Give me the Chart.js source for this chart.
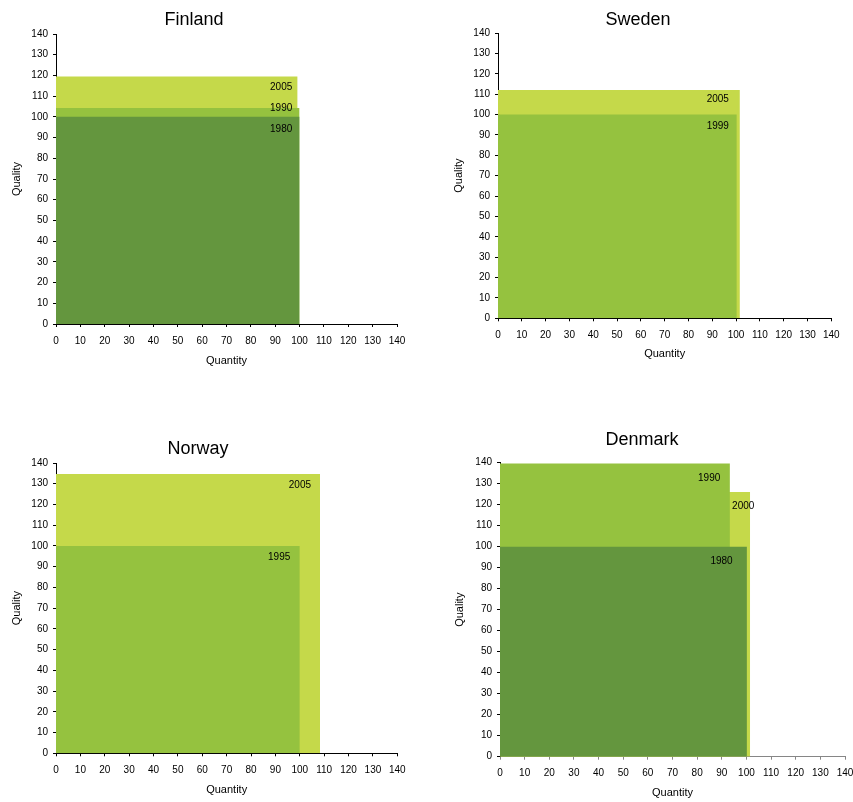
<!DOCTYPE html>
<html>
<head>
<meta charset="utf-8">
<script src="https://cdn.jsdelivr.net/npm/chart.js@4.4.1/dist/chart.umd.min.js"></script>
<style>
  body { margin: 0; background: #fff; }
  #wrap { position: relative; width: 853px; height: 802px; overflow: hidden; }
  canvas { position: absolute; }
</style>
</head>
<body>
<div id="wrap">
  <canvas id="finland"></canvas>
  <canvas id="sweden"></canvas>
  <canvas id="norway"></canvas>
  <canvas id="denmark"></canvas>
</div>
<script>
// axis range shared by all four panels
const axisMin = 0;
const axisMax = 140;
const axisStep = 10;

// each rectangle runs from the origin to (quantity, quality)
const finlandYears = ['2005', '1990', '1980'];
const finlandQuantity = [99.2, 100, 100];
const finlandQuality = [119.5, 104.3, 100];
const finlandLabelQuantity = [97, 97, 97];
const finlandLabelQuality = [114.5, 104, 94];

const swedenYears = ['2005', '1999'];
const swedenQuantity = [101.6, 100.3];
const swedenQuality = [112, 100];
const swedenLabelQuantity = [97, 97];
const swedenLabelQuality = [107.6, 94];

const norwayYears = ['2005', '1995'];
const norwayQuantity = [108.3, 100];
const norwayQuality = [134.7, 100];
const norwayLabelQuantity = [104.6, 96.1];
const norwayLabelQuality = [129.4, 94.6];

const denmarkYears = ['2000', '1990', '1980'];
const denmarkQuantity = [101.5, 93.3, 100.2];
const denmarkQuality = [126, 139.6, 100];
const denmarkLabelQuantity = [103.2, 89.4, 94.4];
const denmarkLabelQuality = [119.2, 132.6, 93];

const light = '#c5d94a';
const mid = '#95c23f';
const dark = '#64963e';

Chart.defaults.font.family = '"Liberation Sans", Arial, sans-serif';
Chart.defaults.color = '#000';

function makePanel(id, geom, title, years, qty, qual, labelQty, labelQual, colors, xAxisColor) {
    const canvas = document.getElementById(id);
    canvas.width = geom.w;
    canvas.height = geom.h;
    canvas.style.left = geom.x + 'px';
    canvas.style.top = geom.y + 'px';

    const half = 6.6; // half line height of the 11px axis titles
    const padTop = geom.top - geom.y;
    const padRight = geom.x + geom.w - geom.right;
    const padLeft = geom.yTitleX - geom.x - half;
    const yWidth = geom.left - geom.x - padLeft;
    const xHeight = geom.xTitleY - geom.bottom + half;
    const padBottom = geom.h - (geom.bottom - geom.y) - xHeight;

    // draw back to front: first year in the list is the rear rectangle
    const datasets = years.map((yr, i) => ({
        label: yr,
        data: [{x: 0, y: qual[i]}, {x: qty[i], y: qual[i]}, {x: qty[i], y: 0}],
        showLine: true,
        fill: 'origin',
        backgroundColor: colors[i],
        borderColor: 'transparent',
        borderWidth: 0,
        pointRadius: 0,
        pointHoverRadius: 0,
        order: years.length - i
    }));

    const yearLabels = {
        id: 'yearLabels',
        afterDatasetsDraw(chart) {
            const {ctx, scales} = chart;
            ctx.save();
            ctx.font = '10px "Liberation Sans", Arial, sans-serif';
            ctx.fillStyle = '#000';
            ctx.textAlign = 'right';
            ctx.textBaseline = 'middle';
            years.forEach((yr, i) => {
                ctx.fillText(yr, scales.x.getPixelForValue(labelQty[i]), scales.y.getPixelForValue(labelQual[i]));
            });
            ctx.restore();
        }
    };

    const panelTitle = {
        id: 'panelTitle',
        afterDraw(chart) {
            const ctx = chart.ctx;
            ctx.save();
            ctx.font = '18px "Liberation Sans", Arial, sans-serif';
            ctx.fillStyle = '#000';
            ctx.textAlign = 'center';
            ctx.textBaseline = 'middle';
            ctx.fillText(title, geom.titleX - geom.x, geom.titleY - geom.y);
            ctx.restore();
        }
    };

    return new Chart(canvas, {
        type: 'scatter',
        data: { datasets: datasets },
        plugins: [yearLabels, panelTitle],
        options: {
            responsive: false,
            animation: false,
            events: [],
            devicePixelRatio: 1,
            layout: {
                padding: { top: padTop, right: padRight, bottom: padBottom, left: padLeft }
            },
            scales: {
                x: {
                    type: 'linear',
                    min: axisMin,
                    max: axisMax,
                    ticks: { stepSize: axisStep, autoSkip: false, maxRotation: 0, padding: 8, font: { size: 10 } },
                    grid: { drawOnChartArea: false, tickLength: 3, color: xAxisColor },
                    border: { color: xAxisColor, width: 1 },
                    title: { display: true, text: 'Quantity', padding: 0, font: { size: 11 } },
                    afterFit(scale) {
                        scale.height = xHeight;
                        // let the last tick label run past the edge instead of shrinking the plot
                        scale.paddingRight = 0;
                        scale.paddingLeft = 0;
                    }
                },
                y: {
                    type: 'linear',
                    min: axisMin,
                    max: axisMax,
                    ticks: { stepSize: axisStep, autoSkip: false, padding: 5, font: { size: 10 } },
                    grid: { drawOnChartArea: false, tickLength: 3, color: '#000' },
                    border: { color: '#000', width: 1 },
                    title: { display: true, text: 'Quality', padding: 0, font: { size: 11 } },
                    afterFit(scale) { scale.width = yWidth; }
                }
            },
            plugins: {
                legend: { display: false },
                tooltip: { enabled: false },
                title: { display: false }
            }
        }
    });
}

makePanel('finland',
    { x: 0, y: 0, w: 426, h: 426, left: 56, right: 397, top: 34, bottom: 324, titleX: 194, titleY: 20.5, yTitleX: 17, xTitleY: 360.5 },
    'Finland', finlandYears, finlandQuantity, finlandQuality, finlandLabelQuantity, finlandLabelQuality,
    [light, mid, dark], '#000');

makePanel('sweden',
    { x: 426, y: 0, w: 427, h: 426, left: 498, right: 831.3, top: 33, bottom: 318.3, titleX: 638, titleY: 20.3, yTitleX: 459.3, xTitleY: 353.5 },
    'Sweden', swedenYears, swedenQuantity, swedenQuality, swedenLabelQuantity, swedenLabelQuality,
    [light, mid], '#000');

makePanel('norway',
    { x: 0, y: 426, w: 426, h: 376, left: 56, right: 397.3, top: 463, bottom: 753.3, titleX: 198, titleY: 449.5, yTitleX: 17, xTitleY: 790 },
    'Norway', norwayYears, norwayQuantity, norwayQuality, norwayLabelQuantity, norwayLabelQuality,
    [light, mid], '#000');

makePanel('denmark',
    { x: 426, y: 426, w: 427, h: 376, left: 500, right: 845, top: 462.7, bottom: 756.7, titleX: 642, titleY: 440.3, yTitleX: 460, xTitleY: 793.3 },
    'Denmark', denmarkYears, denmarkQuantity, denmarkQuality, denmarkLabelQuantity, denmarkLabelQuality,
    [light, mid, dark], '#868686');
</script>
</body>
</html>
